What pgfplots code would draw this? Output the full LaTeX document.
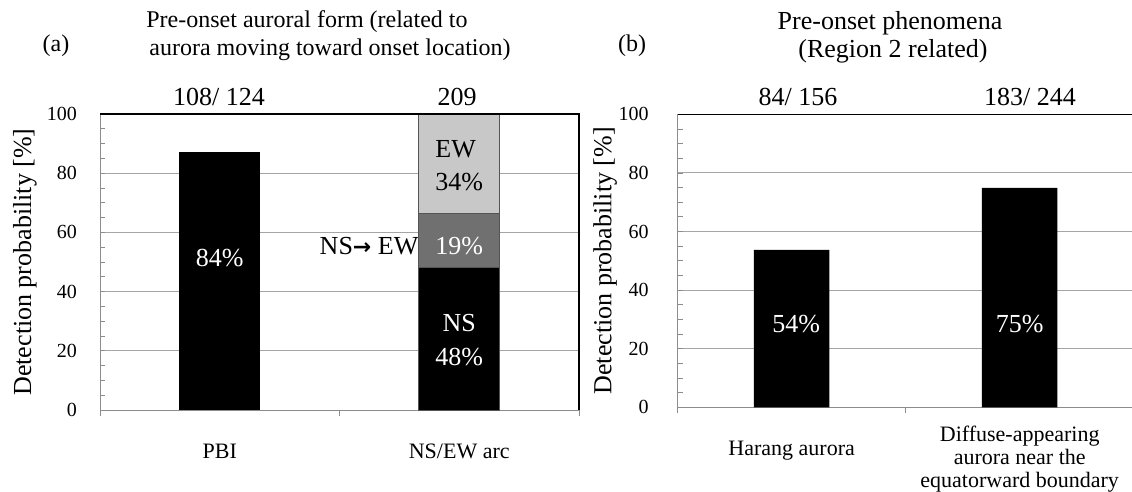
\documentclass[border=0pt]{standalone}
\usepackage{fontspec}
\setmainfont{Liberation Serif}
\newfontfamily\arrowfont{DejaVu Sans}
\usepackage{pgfplots}
\pgfplotsset{compat=1.18}

\definecolor{gridgray}{RGB}{165,165,165}
\definecolor{axgray}{RGB}{140,140,140}
\definecolor{midgray}{RGB}{112,112,112}
\definecolor{ewgray}{RGB}{200,200,200}
\definecolor{edgegray}{RGB}{85,85,85}

\newcommand{\tickfont}{\fontsize{20}{24}\selectfont}
\newcommand{\catfont}{\fontsize{22}{23}\selectfont}
\newcommand{\lblfont}{\fontsize{26}{30}\selectfont}
\newcommand{\titfont}{\fontsize{24}{28}\selectfont}

\pgfplotsset{
  panel/.style={
    anchor=south west, scale only axis, clip=false,
    xmin=-0.5, xmax=1.5, ymin=0, ymax=100,
    axis x line*=bottom, axis y line*=left,
    axis line style={-, axgray, line width=1pt},
    ytick={0,20,...,100}, minor y tick num=3,
    tick align=inside, major tick length=5pt, minor tick length=5pt,
    every tick/.style={axgray, line width=0.8pt},
    ymajorgrids, major grid style={gridgray, line width=1pt},
    xtick={0,1}, xtick style={draw=none},
    /pgf/number format/assume math mode=true,
    yticklabel style={font=\tickfont, inner sep=0pt, anchor=east},
    xticklabel style={font=\catfont, inner sep=0pt, align=center},
    ylabel={Detection probability [\%]},
    ylabel style={font=\lblfont, anchor=center},
    ybar,
  },
  cover/.style={
    anchor=south west, scale only axis, clip=false,
    xmin=-0.5, xmax=1.5, ymin=0, ymax=100, hide axis,
  },
}

\begin{document}
\begin{tikzpicture}
\useasboundingbox (0,0) rectangle (1132pt,491pt);

% titles and counts
\node[anchor=base, font=\titfont] at (307pt,463pt) {Pre-onset auroral form (related to};
\node[anchor=base, font=\titfont] at (330pt,435pt) {aurora moving toward onset location)};
\node[anchor=base, font=\titfont] at (56pt,439pt) {(a)};
\node[anchor=base, font=\lblfont] at (890pt,461pt) {Pre-onset phenomena};
\node[anchor=base, font=\lblfont] at (893pt,433pt) {(Region 2 related)};
\node[anchor=base, font=\titfont] at (632pt,439pt) {(b)};
\node[anchor=base, font=\lblfont] at (219pt,385pt) {108/ 124};
\node[anchor=base, font=\lblfont] at (457pt,385pt) {209};
\node[anchor=base, font=\lblfont] at (798pt,385pt) {84/ 156};
\node[anchor=base, font=\lblfont] at (1030pt,385pt) {183/ 244};

% (a) frame, grid and PBI bar
\begin{axis}[panel, at={(100pt,81pt)}, width=479pt, height=296pt,
  bar width=81pt,
  xticklabels={PBI, NS/EW arc},
  xticklabel style={anchor=base, yshift=-43pt},
  yticklabel style={xshift=-23pt},
  ylabel style={at={(axis description cs:-0.157,0.5)}}]
\addplot[fill=black, draw=none, bar shift=0pt] coordinates {(0,87.1)};
\node[white, anchor=base, font=\lblfont] at (axis cs:0,48.4) {84\%};
\node[anchor=base east, font=\lblfont, inner sep=0pt] at (axis cs:0.83,52.4)
  {NS{\arrowfont\bfseries\fontsize{22}{26}\selectfont →} EW};
\draw[axgray, line width=0.9pt] (axis cs:-0.5,0) -- ++(0pt,-6pt);
\draw[axgray, line width=0.9pt] (axis cs:0.5,0) -- ++(0pt,-6pt);
\draw[axgray, line width=0.9pt] (axis cs:1.5,0) -- ++(0pt,-6pt);
\end{axis}

% (a) stacked NS/EW arc bar
\begin{axis}[cover, at={(100pt,81pt)}, width=479pt, height=296pt,
  ybar stacked, bar width=81pt]
\addplot[fill=black, draw=edgegray, line width=0.8pt] coordinates {(1,48.3)};
\addplot[fill=midgray, draw=edgegray, line width=0.8pt] coordinates {(1,18.1)};
\addplot[fill=ewgray, draw=edgegray, line width=0.8pt] coordinates {(1,33.6)};
\end{axis}

% (a) labels in the stacked bar and black frame, on top
\begin{axis}[cover, at={(100pt,81pt)}, width=479pt, height=296pt]
\node[anchor=base, font=\lblfont] at (axis cs:0.985,85.4) {EW};
\node[anchor=base, font=\lblfont] at (axis cs:1,74.1) {34\%};
\node[white, anchor=base, font=\lblfont] at (axis cs:1,52.4) {19\%};
\node[white, anchor=base, font=\lblfont] at (axis cs:1,26.5) {NS};
\node[white, anchor=base, font=\lblfont] at (axis cs:1,15.2) {48\%};
\draw[black, line width=1.3pt] (axis cs:-0.5,100) -- (axis cs:1.5,100) -- (axis cs:1.5,0);
\end{axis}

% (b)
\begin{axis}[panel, at={(677.7pt,83.7pt)}, width=456pt, height=293pt,
  bar width=75.5pt,
  xticklabels={{\rule{0pt}{28.5pt}Harang aurora},
               {Diffuse-appearing\\aurora near the\\equatorward boundary}},
  xticklabel style={anchor=north, yshift=-14pt},
  yticklabel style={xshift=-29pt},
  ylabel style={at={(axis description cs:-0.159,0.5)}}]
\addplot[fill=black, draw=none, bar shift=0pt] coordinates {(0,53.7) (1,74.9)};
\node[white, anchor=base, font=\lblfont] at (axis cs:0.02,25.4) {54\%};
\node[white, anchor=base, font=\lblfont] at (axis cs:1,25.4) {75\%};
\draw[axgray, line width=0.9pt] (axis cs:-0.5,0) -- ++(0pt,-6pt);
\draw[axgray, line width=0.9pt] (axis cs:0.5,0) -- ++(0pt,-6pt);
\draw[black, line width=1.3pt] (axis cs:-0.5,100) -- (axis cs:1.5,100) -- (axis cs:1.5,0);
\end{axis}
\end{tikzpicture}
\end{document}
